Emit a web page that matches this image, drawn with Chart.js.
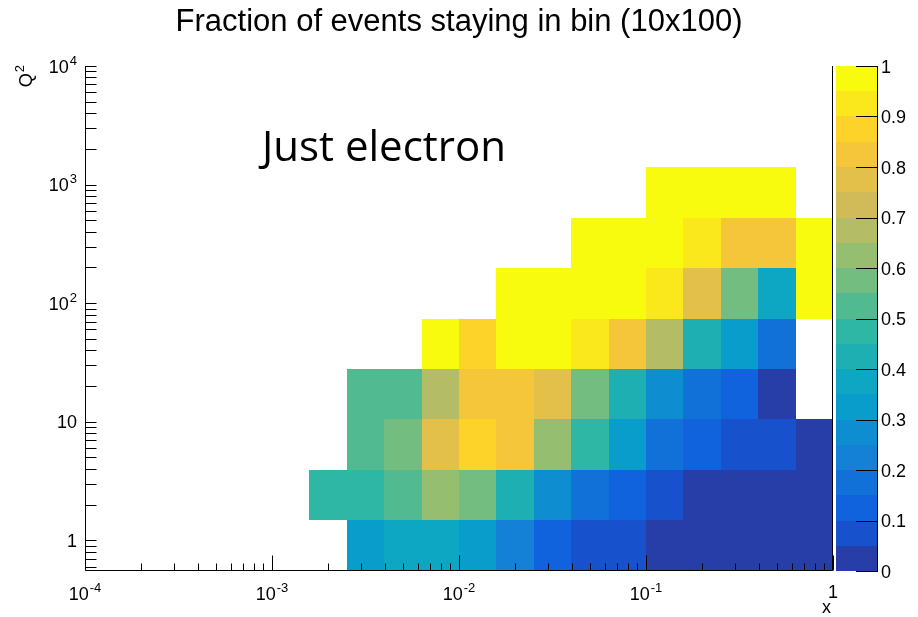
<!DOCTYPE html>
<html lang="en">
<head>
<meta charset="UTF-8">
<title>Fraction of events staying in bin (10x100)</title>
<script src="https://cdn.jsdelivr.net/npm/chart.js"></script>
<style>
  html, body { margin: 0; padding: 0; background: #fff; }
</style>
</head>
<body>
<canvas id="chart" width="918" height="617"></canvas>
<script>
// bin edges as log10 values
const xEdgeExp = [-2.8, -2.6, -2.4, -2.2, -2.0, -1.8, -1.6, -1.4, -1.2, -1.0, -0.8, -0.6, -0.4, -0.2, 0];
const yEdgeExp = [-0.259, 0.167, 0.593, 1.019, 1.444, 1.870, 2.296, 2.722, 3.148, 3.574];
const yAxisMinExp = -0.259;

// fraction per Q2 row (bottom to top), one value per x bin, null = empty bin
const fraction = [
  [null, 0.32, 0.37, 0.37, 0.32, 0.22, 0.12, 0.07, 0.07, 0.02, 0.02, 0.02, 0.02, 0.02],
  [0.47, 0.47, 0.52, 0.62, 0.57, 0.42, 0.27, 0.17, 0.12, 0.07, 0.02, 0.02, 0.02, 0.02],
  [null, 0.52, 0.57, 0.77, 0.87, 0.82, 0.62, 0.47, 0.32, 0.17, 0.12, 0.07, 0.07, 0.02],
  [null, 0.52, 0.52, 0.67, 0.82, 0.82, 0.77, 0.57, 0.42, 0.27, 0.17, 0.12, 0.02, null],
  [null, null, null, 1.00, 0.87, 1.00, 1.00, 0.92, 0.82, 0.67, 0.42, 0.32, 0.17, null],
  [null, null, null, null, null, 1.00, 1.00, 1.00, 1.00, 0.92, 0.77, 0.57, 0.37, 1.00],
  [null, null, null, null, null, null, null, 1.00, 1.00, 1.00, 0.92, 0.82, 0.82, 1.00],
  [null, null, null, null, null, null, null, null, null, 1.00, 1.00, 1.00, 1.00, null]
];

const xTickExp = [-4, -3, -2, -1, 0];
const yTickExp = [0, 1, 2, 3, 4];
const zTickLabels = ['0', '0.1', '0.2', '0.3', '0.4', '0.5', '0.6', '0.7', '0.8', '0.9', '1'];
const nContours = 20;

// ROOT "bird" palette
const birdStops = [0.0, 0.125, 0.25, 0.375, 0.5, 0.625, 0.75, 0.875, 1.0];
const birdR = [0.2082, 0.0592, 0.0780, 0.0232, 0.1802, 0.5301, 0.8186, 0.9956, 0.9764];
const birdG = [0.1664, 0.3599, 0.5041, 0.6419, 0.7178, 0.7492, 0.7328, 0.7862, 0.9832];
const birdB = [0.5293, 0.8684, 0.8385, 0.7914, 0.6425, 0.4662, 0.3499, 0.1968, 0.0539];

function bird(f) {
  let i = 0;
  while (i < birdStops.length - 2 && f > birdStops[i + 1]) i++;
  const t = (f - birdStops[i]) / (birdStops[i + 1] - birdStops[i]);
  const c = arr => Math.round(255 * (arr[i] + t * (arr[i + 1] - arr[i])));
  return `rgb(${c(birdR)},${c(birdG)},${c(birdB)})`;
}

function bandColor(band) {
  return bird(Math.floor((band + 0.99) * 255 / nContours) / 254);
}

function valueColor(v) {
  return bandColor(Math.min(nContours - 1, Math.floor(v * nContours)));
}

const FONT = '"Liberation Sans", Arial, Helvetica, sans-serif';

// "10" with a raised exponent; align is 'right' or 'center'
function drawPow(ctx, exp, x, baseline, align) {
  ctx.textAlign = 'left';
  ctx.textBaseline = 'alphabetic';
  const base = exp === 0 ? '1' : '10';
  const sup = (exp === 0 || exp === 1) ? '' : String(exp);
  ctx.font = '18px ' + FONT;
  const wb = ctx.measureText(base).width;
  ctx.font = '13px ' + FONT;
  const ws = sup ? ctx.measureText(sup).width + 1 : 0;
  const w = wb + ws;
  const left = align === 'right' ? x - w : x - w / 2;
  ctx.font = '18px ' + FONT;
  ctx.fillText(base, left, baseline);
  if (sup) {
    ctx.font = '13px ' + FONT;
    ctx.fillText(sup, left + wb + 1, baseline - 8);
  }
}

const histPlugin = {
  id: 'hist2d',
  beforeDatasetsDraw(chart) {
    const { ctx, scales: { x, y } } = chart;
    ctx.save();
    fraction.forEach((row, r) => {
      row.forEach((v, c) => {
        if (v === null) return;
        const px0 = Math.round(x.getPixelForValue(Math.pow(10, xEdgeExp[c])));
        const px1 = Math.round(x.getPixelForValue(Math.pow(10, xEdgeExp[c + 1])));
        const py0 = Math.round(y.getPixelForValue(Math.pow(10, yEdgeExp[r])));
        const py1 = Math.round(y.getPixelForValue(Math.pow(10, yEdgeExp[r + 1])));
        ctx.fillStyle = valueColor(v);
        ctx.fillRect(px0, py1, px1 - px0, py0 - py1);
      });
    });
    ctx.restore();
  },
  afterDraw(chart) {
    const { ctx, scales: { x, y, z }, chartArea: a } = chart;
    ctx.save();

    // colour palette
    const pl = a.right + 3, pr = a.right + 44;
    for (let i = 0; i < nContours; i++) {
      const t = Math.round(z.getPixelForValue((i + 1) / nContours));
      const b = Math.round(z.getPixelForValue(i / nContours));
      ctx.fillStyle = bandColor(i);
      ctx.fillRect(pl, t, pr - pl, b - t);
    }
    ctx.strokeStyle = '#000';
    ctx.lineWidth = 1;
    ctx.beginPath();
    ctx.moveTo(pr + 0.5, a.top);
    ctx.lineTo(pr + 0.5, a.bottom);
    zTickLabels.forEach((_, k) => {
      const py = Math.round(z.getPixelForValue(k / 10)) + 0.5;
      ctx.moveTo(pr - 21, py);
      ctx.lineTo(pr + 1, py);
    });
    ctx.stroke();
    ctx.fillStyle = '#000';
    ctx.font = '18px ' + FONT;
    ctx.textAlign = 'left';
    ctx.textBaseline = 'alphabetic';
    zTickLabels.forEach((lab, k) => {
      ctx.fillText(lab, pr + 4, z.getPixelForValue(k / 10) + 6.5);
    });

    // frame: left, bottom and right sides
    const L = Math.round(a.left) + 0.5, R = Math.round(a.right) - 0.5;
    const B = Math.round(a.bottom) - 0.5, T = Math.round(a.top);
    ctx.beginPath();
    ctx.moveTo(L, T);
    ctx.lineTo(L, B);
    ctx.lineTo(R, B);
    ctx.lineTo(R, T);
    ctx.stroke();

    // log ticks
    ctx.beginPath();
    for (let d = -4; d <= 0; d++) {
      for (let m = 1; m <= 9; m++) {
        const v = m * Math.pow(10, d);
        if (v > 1) break;
        const px = Math.round(x.getPixelForValue(v)) + 0.5;
        ctx.moveTo(px, B);
        ctx.lineTo(px, B - (m === 1 ? 15 : 7));
      }
    }
    for (let d = -1; d <= 4; d++) {
      for (let m = 1; m <= 9; m++) {
        const v = m * Math.pow(10, d);
        if (v > 1e4) break;
        if (Math.log10(v) < yAxisMinExp) continue;
        const py = Math.round(y.getPixelForValue(v)) + 0.5;
        ctx.moveTo(L, py);
        ctx.lineTo(L + 11, py);
      }
    }
    ctx.stroke();

    // tick labels
    ctx.fillStyle = '#000';
    xTickExp.forEach(e => {
      const px = x.getPixelForValue(Math.pow(10, e));
      drawPow(ctx, e, px, e === 0 ? 598 : 600, 'center');
    });
    yTickExp.forEach(e => {
      const py = y.getPixelForValue(Math.pow(10, e));
      drawPow(ctx, e, a.left - 8, py + 6.5, 'right');
    });

    // axis titles
    ctx.font = '18px ' + FONT;
    ctx.textAlign = 'right';
    ctx.textBaseline = 'alphabetic';
    ctx.fillText('x', a.right - 2, 613);

    ctx.translate(32, a.top - 1);
    ctx.rotate(-Math.PI / 2);
    ctx.font = '13px ' + FONT;
    const w2 = ctx.measureText('2').width;
    ctx.fillText('2', 0, -8);
    ctx.font = '18px ' + FONT;
    ctx.fillText('Q', -w2 - 1, 0);
    ctx.setTransform(1, 0, 0, 1, 0, 0);

    // annotation
    ctx.font = '42px "Open Sans", "Noto Sans", sans-serif';
    ctx.textAlign = 'left';
    ctx.fillText('Just electron', 262, 161);

    ctx.restore();
  }
};

new Chart(document.getElementById('chart'), {
  type: 'scatter',
  data: { datasets: [{ data: [], pointRadius: 0 }] },
  options: {
    responsive: false,
    animation: false,
    layout: { padding: 0 },
    plugins: {
      legend: { display: false },
      tooltip: { enabled: false },
      title: {
        display: true,
        text: 'Fraction of events staying in bin (10x100)',
        color: '#000',
        font: { family: FONT, size: 31, weight: 'normal', lineHeight: 1.2 },
        padding: { top: 4, bottom: 24.8 }
      }
    },
    scales: {
      x: {
        type: 'logarithmic',
        min: 1e-4,
        max: 1,
        ticks: { display: false },
        grid: { display: false },
        border: { display: false },
        afterFit: s => { s.height = 46; }
      },
      y: {
        type: 'logarithmic',
        position: 'left',
        min: Math.pow(10, yAxisMinExp),
        max: 1e4,
        ticks: { display: false },
        grid: { display: false },
        border: { display: false },
        afterFit: s => { s.width = 85; }
      },
      z: {
        axis: 'y',
        type: 'linear',
        position: 'right',
        min: 0,
        max: 1,
        ticks: { display: false },
        grid: { display: false },
        border: { display: false },
        afterFit: s => { s.width = 85; }
      }
    }
  },
  plugins: [histPlugin]
});
</script>
</body>
</html>
